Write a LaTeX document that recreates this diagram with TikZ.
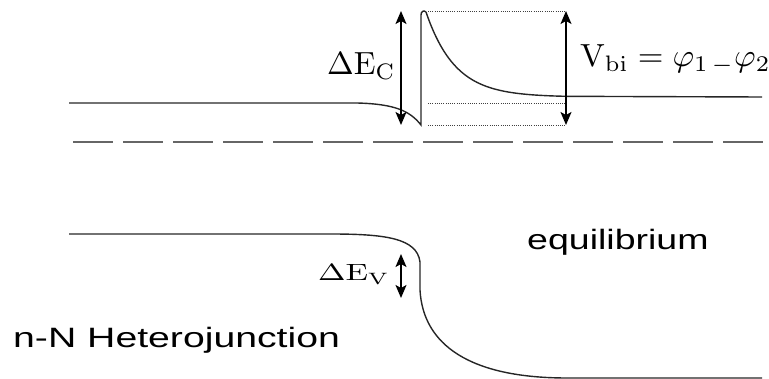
\documentclass[tikz,border=0pt]{standalone}
\usepackage[no-math]{fontspec}
\usepackage{amsmath}
\newfontfamily\sansf{Liberation Sans}
\usetikzlibrary{arrows.meta}
\begin{document}
\begin{tikzpicture}[x=1pt,y=-1pt,
  band/.style={line width=1.4pt, black!85},
  dotline/.style={line width=0.9pt, black!75, dash pattern=on 1pt off 1.2pt},
  dashline/.style={line width=1.8pt, black!60, dash pattern=on 40pt off 10pt},
  dblarrow/.style={line width=1.4pt, {Stealth[length=13pt,width=11pt,inset=3pt]}-{Stealth[length=13pt,width=11pt,inset=3pt]}},
  lbl/.style={inner sep=0pt, anchor=base west},
]
\useasboundingbox (0,0) rectangle (769,379);
% coordinates
\coordinate (cbL) at (69,103);
\coordinate (cbBend) at (357,103);
\coordinate (cbDip) at (421,125);
\coordinate (cbTop) at (421,15);
\coordinate (cbPeak) at (426,12);
\coordinate (cbR) at (762,97);
\coordinate (vbL) at (69,234);
\coordinate (vbBend) at (330,234);
\coordinate (vbKnee) at (420,262);
\coordinate (vbStep) at (420,290);
\coordinate (vbLow) at (567,378);
\coordinate (vbR) at (762,378);
% conduction band
\draw[band] (cbL) -- (cbBend) .. controls (395,104) and (410,111) .. (cbDip) -- (cbTop)
  .. controls (421,11) and (424,10) .. (cbPeak)
  plot[domain=0:140, samples=80] ({426+\x},{97-85*exp(-\x/29)}) -- (cbR);
% valence band
\draw[band] (vbL) -- (vbBend) .. controls (385,234) and (417,238) .. (vbKnee) -- (vbStep)
  .. controls (423,345) and (470,378) .. (vbLow) -- (vbR);
% dashed Fermi level
\coordinate (fL) at (73,142);
\coordinate (fR) at (763,142);
\draw[dashline] (fL) -- (fR);
% dotted guides
\coordinate (d1L) at (428,11); \coordinate (d1R) at (566,11);
\coordinate (d2L) at (428,103); \coordinate (d2R) at (566,103);
\coordinate (d3L) at (428,125); \coordinate (d3R) at (566,125);
\draw[dotline] (d1L) -- (d1R);
\draw[dotline] (d2L) -- (d2R);
\draw[dotline] (d3L) -- (d3R);
% arrows
\coordinate (ecT) at (401,11); \coordinate (ecB) at (401,125);
\draw[dblarrow] (ecT) -- (ecB);
\coordinate (vbiT) at (566,11); \coordinate (vbiB) at (566,125);
\draw[dblarrow] (vbiT) -- (vbiB);
\coordinate (evT) at (401,254); \coordinate (evB) at (401,298);
\draw[dblarrow] (evT) -- (evB);
% labels
\node[lbl] (lEc) at (327,75) {\scalebox{3.2}{$\Delta\mathrm{E}_{\mathrm{C}}$}};
\node[lbl] (lVbi) at (580,67) {\scalebox{3.3}[3.2]{$\mathrm{V}_{\mathrm{bi}}=\varphi_{1\,-}\varphi_{2}$}};
\node[lbl] (lEv) at (318,281) {\scalebox{3.3}[2.35]{$\Delta\mathrm{E}_{\mathrm{V}}$}};
\node[lbl] (lEq) at (527,250) {\fontsize{28}{32}\selectfont\sansf\scalebox{1.34}[1]{equilibrium}};
\node[lbl] (lHj) at (13,348) {\fontsize{28}{32}\selectfont\sansf\scalebox{1.40}[1]{n-N Heterojunction}};
\end{tikzpicture}
\end{document}
